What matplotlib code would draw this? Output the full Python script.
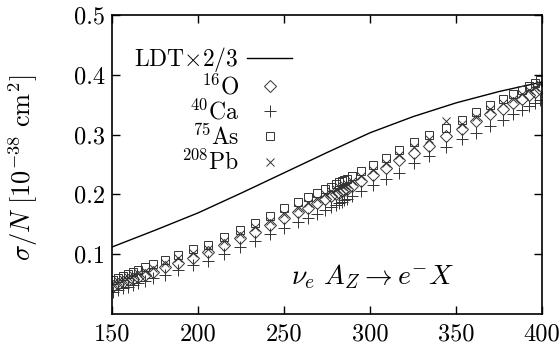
import matplotlib
matplotlib.use("Agg")
import matplotlib.pyplot as plt

plt.rcParams["font.family"] = "serif"
plt.rcParams["font.serif"] = ["cmr10", "DejaVu Serif"]
plt.rcParams["mathtext.fontset"] = "cm"
plt.rcParams["axes.formatter.use_mathtext"] = True
plt.rcParams["axes.unicode_minus"] = False

# neutrino energy grid (shared by all nuclei)
energy = [150.5, 153.5, 156.5, 159.3, 162.2, 165, 169, 174, 181, 188.5, 197, 206,
          215, 224.5, 233, 242, 250, 258, 264, 269, 274, 277.5, 280, 282, 283.5,
          285, 286.5, 289.5, 295, 301.5, 309, 317, 325.5, 334.5, 344, 353.3,
          361.6, 370, 377, 383.3, 388.5, 392.6, 395.8, 399]

o16 = [0.047, 0.050, 0.053, 0.056, 0.059, 0.062, 0.066, 0.071, 0.078, 0.086, 0.094, 0.103,
       0.115, 0.127, 0.137, 0.149, 0.160, 0.170, 0.178, 0.185, 0.192, 0.197, 0.200, 0.203,
       0.205, 0.207, 0.209, 0.214, 0.222, 0.232, 0.244, 0.257, 0.269, 0.281, 0.297, 0.309,
       0.322, 0.334, 0.342, 0.352, 0.360, 0.366, 0.371, 0.376]

ca40 = [0.037, 0.040, 0.043, 0.045, 0.048, 0.051, 0.055, 0.060, 0.066, 0.074, 0.082, 0.089,
        0.101, 0.112, 0.122, 0.133, 0.144, 0.154, 0.161, 0.168, 0.174, 0.179, 0.183, 0.186,
        0.188, 0.190, 0.192, 0.197, 0.205, 0.216, 0.226, 0.236, 0.252, 0.264, 0.280, 0.292,
        0.303, 0.314, 0.325, 0.334, 0.341, 0.347, 0.352, 0.357]

as75 = [0.057, 0.060, 0.064, 0.067, 0.070, 0.073, 0.078, 0.083, 0.091, 0.099, 0.108, 0.116,
        0.129, 0.141, 0.152, 0.164, 0.177, 0.187, 0.195, 0.202, 0.209, 0.213, 0.217, 0.220,
        0.222, 0.224, 0.226, 0.231, 0.239, 0.249, 0.261, 0.274, 0.287, 0.300, 0.311, 0.325,
        0.338, 0.350, 0.360, 0.368, 0.375, 0.381, 0.386, 0.392]

pb208 = [0.052, 0.055, 0.058, 0.062, 0.065, 0.068, 0.072, 0.077, 0.085, 0.093, 0.102, 0.109,
         0.122, 0.134, 0.145, 0.156, 0.168, 0.178, 0.186, 0.193, 0.200, 0.205, 0.209, 0.212,
         0.214, 0.216, 0.218, 0.223, 0.231, 0.241, 0.253, 0.266, 0.279, 0.292, 0.322, 0.317,
         0.330, 0.342, 0.352, 0.360, 0.368, 0.374, 0.379, 0.384]

# LDT x 2/3 curve
ldt_e = [150, 175, 200, 225, 250, 275, 300, 325, 350, 375, 400]
ldt_sigma = [0.112, 0.140, 0.169, 0.202, 0.236, 0.270, 0.303, 0.330, 0.353, 0.372, 0.388]

fig = plt.figure(figsize=(5.6, 3.45), dpi=100)
ax = fig.add_axes([0.2, 0.0899, 0.768, 0.8667])

ax.plot(ldt_e, ldt_sigma, color="black", lw=1.0, label=r"LDT$\times$2/3")
mk = dict(ls="none", mfc="none", mec="#333333", mew=0.7)
ax.plot(energy, o16, marker="D", ms=6.2, label=r"$^{16}$O", **mk)
ax.plot(energy, ca40, marker="+", ms=8, label=r"$^{40}$Ca", **mk)
ax.plot(energy, as75, marker="s", ms=6.3, label=r"$^{75}$As", **mk)
ax.plot(energy, pb208, marker="x", ms=5.5, label=r"$^{208}$Pb", **mk)

ax.set_xlim(150, 400)
ax.set_ylim(0, 0.5)
ax.set_xticks([150, 200, 250, 300, 350, 400])
ax.set_xticklabels(["150", "200", "250", "300", "350", "400"])
ax.set_yticks([0.1, 0.2, 0.3, 0.4, 0.5])
ax.set_yticklabels(["0.1", "0.2", "0.3", "0.4", "0.5"])
ax.tick_params(direction="in", top=True, right=True, length=6, width=1.0,
               labelsize=17.5)
ax.tick_params(axis="x", pad=7)
ax.tick_params(axis="y", pad=5)
for s in ax.spines.values():
    s.set_linewidth(1.2)

ax.set_ylabel(r"$\sigma/N\ [10^{-38}\ \mathrm{cm}^2]$", fontsize=19)
ax.yaxis.set_label_coords(-0.167, 0.49)

ax.text(0.607, 0.124, r"$\nu_e\ A_Z \rightarrow e^{-}X$", transform=ax.transAxes,
        ha="center", va="center", fontsize=20)

leg = ax.legend(loc="upper right", bbox_to_anchor=(292 / 560, 1 - 45 / 345),
                bbox_transform=fig.transFigure, frameon=False, markerfirst=False,
                fontsize=17, handlelength=1.9, handletextpad=0.35,
                labelspacing=0.0, borderpad=0, borderaxespad=0)

fig.savefig("out.png", dpi=100)
